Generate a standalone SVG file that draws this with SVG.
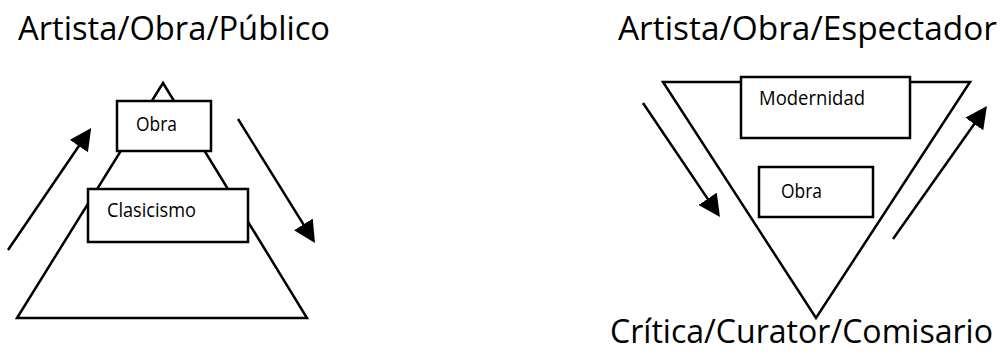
<svg xmlns="http://www.w3.org/2000/svg" width="1000" height="355" viewBox="0 0 1000 355">
<style>
.shape{fill:none;stroke:#000;stroke-width:2.5;stroke-linejoin:miter}
.box{fill:#fff;stroke:#000;stroke-width:2.5}
.title{font-family:"Open Sans","Liberation Sans",sans-serif;font-size:32px;fill:#000}
.lbl{font-family:"Open Sans","Liberation Sans",sans-serif;font-size:20px;fill:#000}
.arr{stroke:#000;stroke-width:2.5;fill:none}
</style>
<defs>
<marker id="ah" viewBox="0 0 20 20" refX="10" refY="10" markerWidth="22" markerHeight="22" markerUnits="userSpaceOnUse" orient="auto">
<path d="M0,0 L20,10 L0,20 z" fill="#000"/>
</marker>
</defs>
<rect width="1000" height="355" fill="#fff"/>
<g id="titles">
<text class="title" x="18" y="40" textLength="312" lengthAdjust="spacingAndGlyphs">Artista/Obra/Público</text>
<text class="title" x="618" y="40" textLength="379" lengthAdjust="spacingAndGlyphs">Artista/Obra/Espectador</text>
<text class="title" x="610" y="343" textLength="383" lengthAdjust="spacingAndGlyphs">Crítica/Curator/Comisario</text>
</g>
<g id="pyramid">
<polygon class="shape" points="163,83 17,318 307,318"/>
</g>
<g id="inverted-pyramid">
<polygon class="shape" points="663,82 970,82 816,318"/>
</g>
<g id="node-obra-left">
<rect class="box" x="117" y="101" width="94" height="50"/>
<text class="lbl" x="136" y="131" textLength="41" lengthAdjust="spacingAndGlyphs">Obra</text>
</g>
<g id="node-clasicismo">
<rect class="box" x="88" y="189" width="160" height="53"/>
<text class="lbl" x="107" y="217" textLength="89" lengthAdjust="spacingAndGlyphs">Clasicismo</text>
</g>
<g id="node-modernidad">
<rect class="box" x="741" y="77" width="169" height="61"/>
<text class="lbl" x="759" y="105" textLength="106" lengthAdjust="spacingAndGlyphs">Modernidad</text>
</g>
<g id="node-obra-right">
<rect class="box" x="759" y="167" width="114" height="50"/>
<text class="lbl" x="781" y="198" textLength="41" lengthAdjust="spacingAndGlyphs">Obra</text>
</g>
<g id="connectors">
<line class="arr" x1="8" y1="250" x2="85" y2="137" marker-end="url(#ah)"/>
<line class="arr" x1="238" y1="119" x2="309.2" y2="233.7" marker-end="url(#ah)"/>
<line class="arr" x1="643" y1="103" x2="713.8" y2="207.9" marker-end="url(#ah)"/>
<line class="arr" x1="893" y1="239" x2="980.6" y2="115" marker-end="url(#ah)"/>
</g>
</svg>
